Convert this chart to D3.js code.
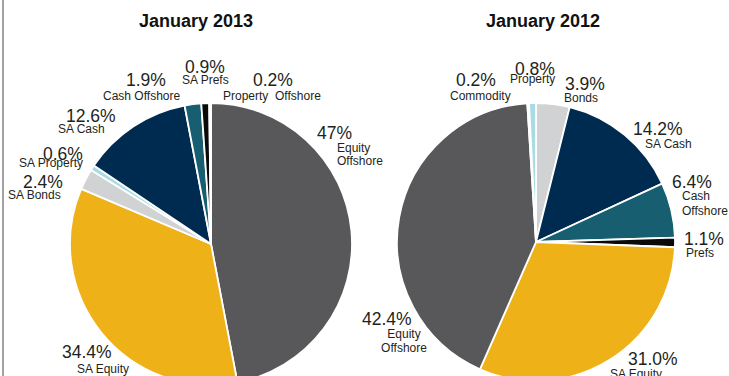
<!DOCTYPE html>
<html>
<head>
<meta charset="utf-8">
<script src="https://cdn.jsdelivr.net/npm/d3@7"></script>
<style>
  html, body { margin: 0; padding: 0; background: #fff; }
  .title { font: bold 18px "Liberation Sans", Arial, sans-serif; fill: #111; }
  .pct { font: 17.5px "Liberation Sans", Arial, sans-serif; fill: #231f20; }
  .name { font: 12px "Liberation Sans", Arial, sans-serif; fill: #231f20; white-space: pre; }
</style>
</head>
<body>
<div id="chart"></div>
<script>
// January 2013
var cats2013 = ["Equity Offshore", "SA Equity", "SA Bonds", "SA Property", "SA Cash", "Cash Offshore", "SA Prefs", "Property  Offshore"];
var vals2013 = [47, 34.4, 2.4, 0.6, 12.6, 1.9, 0.9, 0.2];
var pct2013 = ["47%", "34.4%", "2.4%", "0.6%", "12.6%", "1.9%", "0.9%", "0.2%"];

// January 2012
var cats2012 = ["Bonds", "SA Cash", "Cash Offshore", "Prefs", "SA Equity", "Equity Offshore", "Commodity", "Property"];
var vals2012 = [3.9, 14.2, 6.4, 1.1, 31.0, 42.4, 0.2, 0.8];
var pct2012 = ["3.9%", "14.2%", "6.4%", "1.1%", "31.0%", "42.4%", "0.2%", "0.8%"];

var titles = ["January 2013", "January 2012"];

var colors = {
  "Equity Offshore": "#58585a",
  "SA Equity": "#eeb118",
  "SA Bonds": "#d1d2d4",
  "Bonds": "#d1d2d4",
  "SA Property": "#a9dbe5",
  "Property": "#a9dbe5",
  "SA Cash": "#002b50",
  "Cash Offshore": "#175e71",
  "SA Prefs": "#0a0a0a",
  "Prefs": "#0a0a0a",
  "Property  Offshore": "#ffffff",
  "Commodity": "#7ab648"
};

// label placement (absolute page coords): pct start, name start, wrap name onto lines
var layout2013 = [
  {px: 317, py: 139, nx: 337, ny: 152, wrap: true, lh: 13},
  {px: 62, py: 358, nx: 77, ny: 373},
  {px: 23, py: 188, nx: 8, ny: 199},
  {px: 43, py: 160, nx: 19, ny: 167},
  {px: 66, py: 122, nx: 58, ny: 133},
  {px: 126, py: 86, nx: 103, ny: 100},
  {px: 185, py: 73, nx: 182, ny: 84},
  {px: 253, py: 86, nx: 223, ny: 100}
];
var layout2012 = [
  {px: 565, py: 90, nx: 564, ny: 102},
  {px: 633, py: 135, nx: 645, ny: 148},
  {px: 672, py: 188, nx: 682, ny: 200, wrap: true, lh: 15},
  {px: 684, py: 245, nx: 686, ny: 257},
  {px: 628, py: 365, nx: 610, ny: 378},
  {px: 362, py: 325, nx: 404, ny: 338, wrap: true, lh: 14, mid: true},
  {px: 456, py: 86, nx: 450, ny: 100},
  {px: 515, py: 75, nx: 510, ny: 83}
];

var width = 729, height = 376;

var svg = d3.select("#chart").append("svg")
  .attr("width", width)
  .attr("height", height);

// left frame line
svg.append("line")
  .attr("x1", 3).attr("x2", 3)
  .attr("y1", 0).attr("y2", height)
  .attr("stroke", "#a3a3a3")
  .attr("stroke-width", 2);

var pie = d3.pie().sort(null).value(function(d) { return d; });

function drawPie(cx, cy, r, title, titleX, cats, vals, pcts, layout) {
  svg.append("text")
    .attr("class", "title")
    .attr("x", titleX)
    .attr("y", 27)
    .attr("text-anchor", "middle")
    .text(title);

  var arc = d3.arc().innerRadius(0).outerRadius(r);
  var g = svg.append("g").attr("transform", "translate(" + cx + "," + cy + ")");

  g.selectAll("path")
    .data(pie(vals))
    .enter().append("path")
    .attr("d", arc)
    .attr("fill", function(d, i) { return colors[cats[i]]; })
    .attr("stroke", "#fff")
    .attr("stroke-width", 1.8)
    .attr("stroke-linejoin", "round");

  cats.forEach(function(c, i) {
    var l = layout[i];
    svg.append("text")
      .attr("class", "pct")
      .attr("x", l.px)
      .attr("y", l.py)
      .text(pcts[i]);
    var lines = l.wrap ? c.split(" ") : [c];
    lines.forEach(function(t, j) {
      svg.append("text")
        .attr("class", "name")
        .attr("x", l.nx)
        .attr("y", l.ny + j * (l.lh || 13))
        .attr("text-anchor", l.mid ? "middle" : "start")
        .text(t);
    });
  });
}

drawPie(211, 244, 141, titles[0], 196, cats2013, vals2013, pct2013, layout2013);
drawPie(536, 242, 139, titles[1], 543, cats2012, vals2012, pct2012, layout2012);
</script>
</body>
</html>
